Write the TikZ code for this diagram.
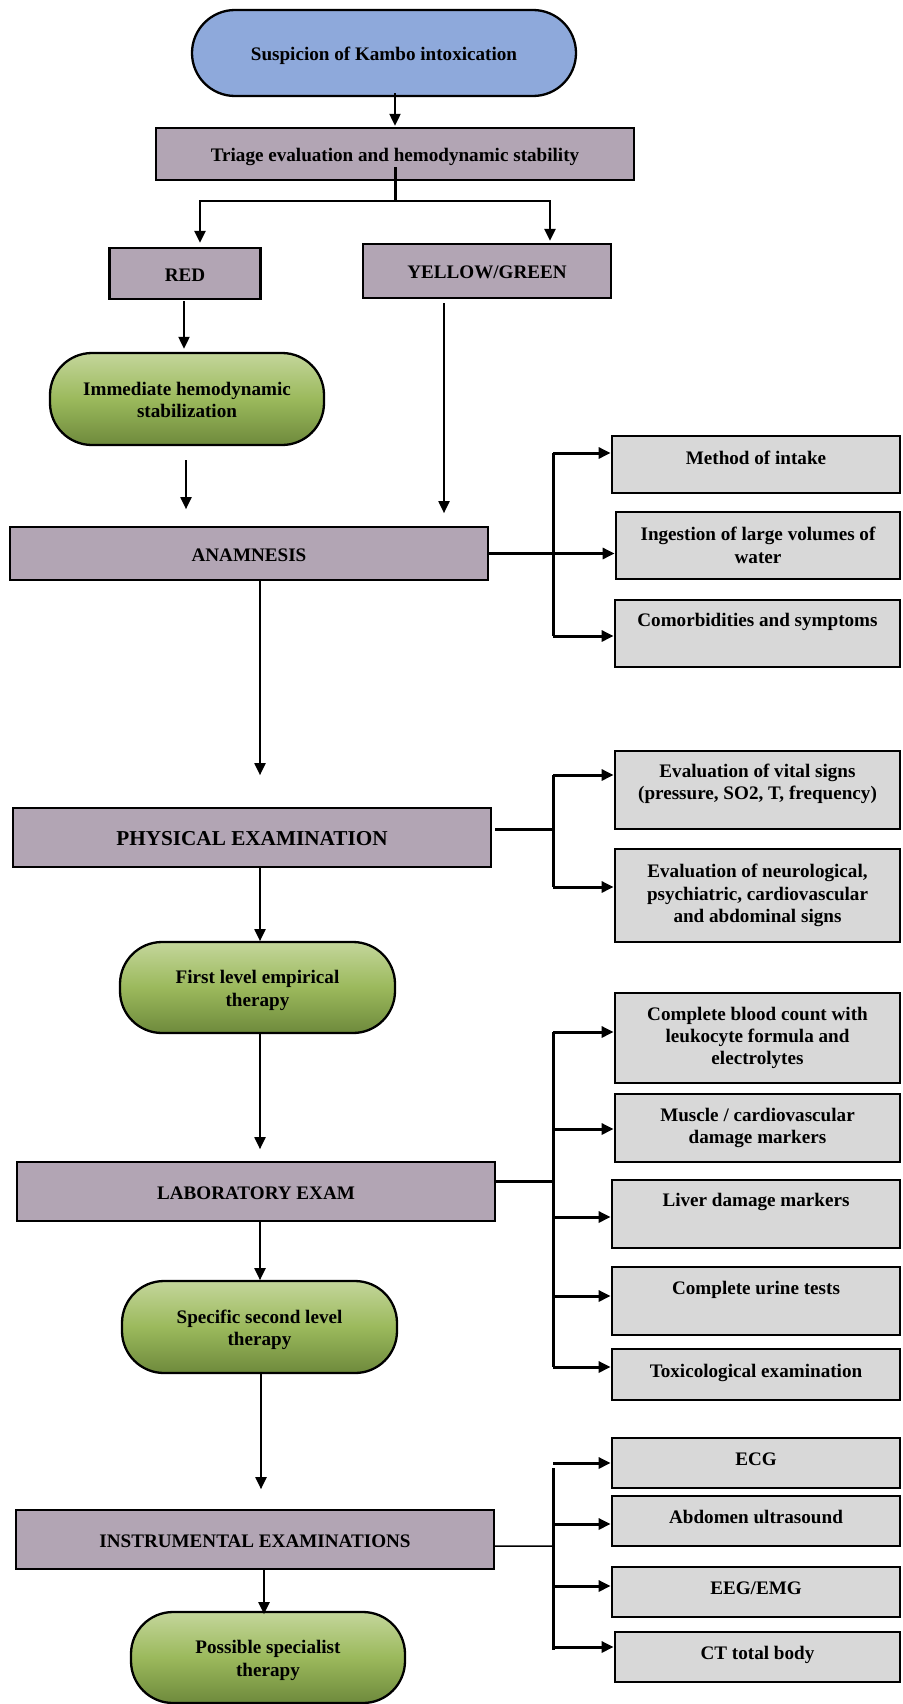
\documentclass[tikz,border=0pt]{standalone}
\usepackage{fontspec}
\setmainfont{Liberation Serif}
\usetikzlibrary{arrows.meta,calc}
\definecolor{blueC}{RGB}{142,169,219}
\definecolor{mauveC}{RGB}{178,165,180}
\definecolor{greyC}{RGB}{216,216,216}
\definecolor{gTop}{RGB}{196,214,155}
\definecolor{gMid}{RGB}{155,185,92}
\definecolor{gBot}{RGB}{110,138,60}
\newcommand\tS{\rule{0pt}{19.7bp}}
\newcommand\tSb{\rule{0pt}{21bp}}
\newcommand\bS{\rule[-4.5bp]{0pt}{0pt}}
\newcommand\gS{\rule[-7.5bp]{0pt}{13.5bp}}
\begin{document}
\begin{tikzpicture}[x=1bp,y=-1bp,
  mf/.style={font=\fontsize{19.2}{22.4}\selectfont\bfseries},
  box/.style={draw=black, line width=2.3bp, inner sep=0pt, align=center, mf},
  mbox/.style={box, fill=mauveC},
  gbox/.style={box, fill=greyC, line width=2.8bp},
  stad/.style={box, rounded corners=42bp, top color=gTop, bottom color=gBot, middle color=gMid},
  txt/.style={inner sep=0pt, align=center, mf},
  arr/.style={-{Triangle[width=11bp,length=12bp]}, line width=2bp},
  brl/.style={line width=3bp},
  brarr/.style={-{Triangle[width=11bp,length=12bp]}, line width=3bp},
]
\useasboundingbox (0,0) rectangle (902,1704);

% main column
\node[box, fill=blueC, rounded corners=43bp, minimum width=384bp, minimum height=86bp] (susp) at (384,53) {\tS Suspicion of Kambo intoxication\bS};
\node[mbox, minimum width=478bp, minimum height=52bp] (triage) at (395,154) {\tS Triage evaluation and hemodynamic stability\bS};
\node[mbox, minimum width=151bp, minimum height=51bp] (red) at (185,273.5) {\tS RED\bS};
\node[mbox, minimum width=248bp, minimum height=54bp] (yellow) at (487,271) {\tS YELLOW/GREEN\bS};
\node[stad, minimum width=274bp, minimum height=92bp] (immed) at (187,399) {\tS Immediate hemodynamic\\stabilization\bS};
\node[mbox, minimum width=478bp, minimum height=53bp] (anam) at (249,553.5) {\tS ANAMNESIS\bS};
\node[mbox, minimum width=478bp, minimum height=59bp, font=\fontsize{21.3}{24}\selectfont\bfseries] (phys) at (252,837.5) {\tSb PHYSICAL EXAMINATION\bS};
\node[stad, minimum width=275bp, minimum height=91bp] (first) at (257.5,987.5) {\tS First level empirical\\therapy\bS};
\node[mbox, minimum width=478bp, minimum height=59bp] (lab) at (256,1191.5) {\tS LABORATORY EXAM\bS};
\node[stad, minimum width=275bp, minimum height=92bp] (spec) at (259.5,1327) {\tS Specific second level\\therapy\bS};
\node[mbox, minimum width=478bp, minimum height=59bp] (instr) at (255,1539.5) {\tS INSTRUMENTAL EXAMINATIONS\bS};
\node[stad, minimum width=274bp, minimum height=91bp] (poss) at (268,1657.5) {\tS Possible specialist\\therapy\bS};

% right column
\node[gbox, minimum width=288bp, minimum height=57bp] (method) at (756,464.5) {};
\node[txt] (methodT) at (756,458) {Method of intake};
\node[gbox, minimum width=284bp, minimum height=67bp] (ingest) at (758,545.5) {Ingestion of large volumes of\\water};
\node[gbox, minimum width=285bp, minimum height=67bp] (comorb) at (757.5,633.5) {};
\node[txt] (comorbT) at (757.5,622) {Comorbidities and symptoms};

\node[gbox, minimum width=285bp, minimum height=78bp] (vital) at (757.5,790) {};
\node[txt] (vitalT) at (757.5,783.5) {Evaluation of vital signs\\(pressure, SO2, T, frequency)};
\node[gbox, minimum width=285bp, minimum height=93bp] (neuro) at (757.5,895.5) {Evaluation of neurological,\\psychiatric, cardiovascular\\and abdominal signs};

\node[gbox, minimum width=285bp, minimum height=90bp] (cbc) at (757.5,1038) {Complete blood count with\\leukocyte formula and\\electrolytes};
\node[gbox, minimum width=285bp, minimum height=68bp] (muscle) at (757.5,1128) {Muscle / cardiovascular\\damage markers};
\node[gbox, minimum width=288bp, minimum height=68bp] (liver) at (756,1214) {};
\node[txt] (liverT) at (756,1202) {Liver damage markers};
\node[gbox, minimum width=288bp, minimum height=68bp] (urine) at (756,1301) {};
\node[txt] (urineT) at (756,1290) {Complete urine tests};
\node[gbox, minimum width=288bp, minimum height=51bp] (tox) at (756,1374.5) {\gS Toxicological examination};

\node[gbox, minimum width=288bp, minimum height=50bp] (ecg) at (756,1463) {\gS ECG};
\node[gbox, minimum width=288bp, minimum height=50bp] (abd) at (756,1521) {\gS Abdomen ultrasound};
\node[gbox, minimum width=288bp, minimum height=50bp] (eeg) at (756,1592) {\gS EEG/EMG};
\node[gbox, minimum width=285bp, minimum height=50bp] (ct) at (757.5,1657) {\gS CT total body};

% connectors: main column
\draw[arr] ($(susp.south)+(11,-4)$) -- ($(triage.north)+(0,-1)$);
\draw[brl] ($(triage.south)+(0,-14)$) -- ($(triage.south)+(0,20)$) coordinate (split);
\draw[arr, line width=2.6bp] (split) -| ($(red.north)+(15,-4)$);
\draw[arr, line width=2.6bp] (split) -| ($(yellow.north)+(63,-2)$);
\draw[arr] ($(red.south)+(-1,1)$) -- ($(immed.north)+(-3,-3)$);
\draw[arr] ($(immed.south)+(-1,14)$) -- ($(immed.south)+(-1,63)$);
\draw[arr] ($(yellow.south)+(-43,4)$) -- ($(yellow.south)+(-43,214)$);
\draw[arr] ($(anam.south)+(11,0)$) -- ($(anam.south)+(11,194)$);
\draw[arr] ($(phys.south)+(8,0)$) -- ($(phys.south)+(8,73)$);
\draw[arr] ($(first.south)+(2.5,0)$) -- ($(first.south)+(2.5,115)$);
\draw[arr] ($(lab.south)+(4,0)$) -- ($(lab.south)+(4,58)$);
\draw[arr] ($(spec.south)+(1.5,0)$) -- ($(spec.south)+(1.5,115)$);
\draw[arr] ($(instr.south)+(9,-2)$) -- ($(instr.south)+(9,44)$);

% anamnesis branch
\coordinate (a1) at (553,453);
\coordinate (a2) at (553,553.5);
\coordinate (a3) at (553,636);
\draw[brl] (anam.east) -- (a2);
\draw[brl] (a1) -- (a3);
\draw[brarr] (a1) -- (a1 -| method.west);
\draw[brarr] (a2) -- (a2 -| ingest.west);
\draw[brarr] (a3) -- (a3 -| comorb.west);

% physical branch
\coordinate (p1) at (553,775);
\coordinate (p2) at (553,829);
\coordinate (p3) at (553,887);
\draw[brl] ($(phys.east)+(3,-8.5)$) -- (p2);
\draw[brl] (p1) -- (p3);
\draw[brarr] (p1) -- (p1 -| vital.west);
\draw[brarr] (p3) -- (p3 -| neuro.west);

% laboratory branch
\coordinate (l0) at (553,1181);
\coordinate (l1) at (553,1032);
\coordinate (l2) at (553,1129);
\coordinate (l3) at (553,1217);
\coordinate (l4) at (553,1296);
\coordinate (l5) at (553,1367);
\draw[brl] ($(lab.east)+(0,-10.5)$) -- (l0);
\draw[brl] (l1) -- (l5);
\draw[brarr] (l1) -- (l1 -| cbc.west);
\draw[brarr] (l2) -- (l2 -| muscle.west);
\draw[brarr] (l3) -- (l3 -| liver.west);
\draw[brarr] (l4) -- (l4 -| urine.west);
\draw[brarr] (l5) -- (l5 -| tox.west);

% instrumental branch
\coordinate (i0) at (553,1463);
\coordinate (i1) at (553,1468);
\coordinate (i2) at (553,1524);
\coordinate (i3) at (553,1586);
\coordinate (i4) at (553,1647);
\coordinate (i5) at (553,1650);
\coordinate (im) at (553,1546);
\draw[line width=1.5bp] ($(instr.east)+(0,6.5)$) -- (im);
\draw[brl] (i1) -- (i5);
\draw[brarr] (i0) -- (i0 -| ecg.west);
\draw[brarr] (i2) -- (i2 -| abd.west);
\draw[brarr] (i3) -- (i3 -| eeg.west);
\draw[brarr] (i4) -- (i4 -| ct.west);
\end{tikzpicture}
\end{document}
